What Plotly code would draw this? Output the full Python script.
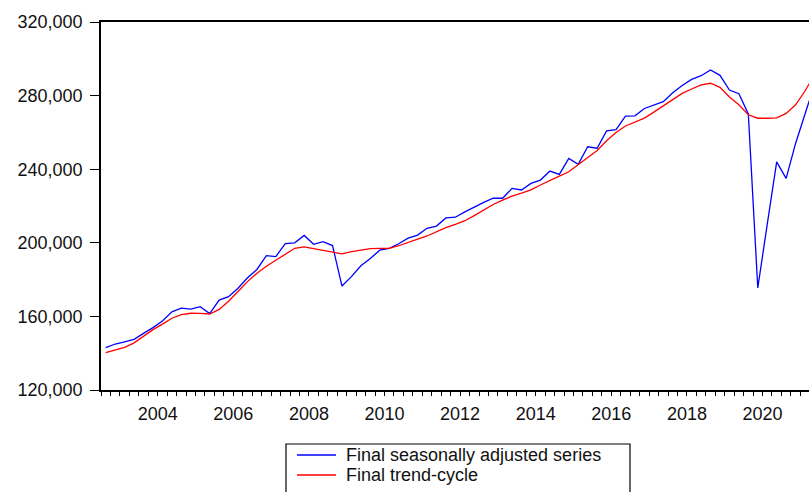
import plotly.graph_objects as go

# Quarterly observations 2003Q1 .. 2021Q4
start_year = 2003
quarters_per_year = 4

seasonally_adjusted = [
    143.0, 145.0, 146.2, 147.5,   # 2003
    150.8, 153.9, 157.5, 162.5,   # 2004
    164.5, 164.0, 165.3, 161.5,   # 2005
    168.9, 170.7, 175.3, 181.0,   # 2006
    185.5, 193.0, 192.5, 199.5,   # 2007
    200.0, 204.0, 199.2, 200.6,   # 2008
    198.5, 176.5, 181.6, 187.5,   # 2009
    191.5, 196.0, 197.0, 199.5,   # 2010
    202.5, 204.2, 207.9, 209.1,   # 2011
    213.5, 213.9, 216.8, 219.5,   # 2012
    222.0, 224.2, 224.2, 229.6,   # 2013
    228.7, 232.3, 234.1, 239.0,   # 2014
    237.2, 245.9, 242.7, 252.2,   # 2015
    251.4, 260.8, 261.5, 268.9,   # 2016
    269.0, 273.0, 274.9, 276.7,   # 2017
    281.5, 285.5, 288.8, 290.8,   # 2018
    293.9, 291.0, 283.0, 281.0,   # 2019
    270.0, 175.5, 210.0, 244.0,   # 2020
    235.0, 254.0, 270.0, 286.0,   # 2021
]

trend_cycle = [
    140.3, 141.8, 143.2, 145.6,   # 2003
    149.3, 152.8, 155.8, 159.0,   # 2004
    161.0, 161.7, 161.6, 161.3,   # 2005
    163.8, 168.2, 173.5, 178.9,   # 2006
    183.5, 187.3, 190.5, 193.8,   # 2007
    197.0, 197.8, 196.8, 195.6,   # 2008
    194.7, 194.0, 195.2, 196.1,   # 2009
    196.8, 197.0, 197.0, 198.4,   # 2010
    200.0, 202.0, 203.7, 206.0,   # 2011
    208.2, 210.0, 212.0, 214.8,   # 2012
    217.8, 220.8, 223.2, 225.4,   # 2013
    227.0, 228.8, 231.4, 234.0,   # 2014
    236.2, 238.6, 242.3, 246.0,   # 2015
    250.2, 255.5, 260.0, 263.5,   # 2016
    265.5, 267.8, 271.0, 274.5,   # 2017
    277.8, 281.2, 283.6, 285.8,   # 2018
    286.7, 284.5, 279.2, 275.0,   # 2019
    269.6, 267.7, 267.7, 267.9,   # 2020
    270.3, 275.0, 282.5, 291.5,   # 2021
]

y_ticks = [120000, 160000, 200000, 240000, 280000, 320000]
x_label_years = [2004, 2006, 2008, 2010, 2012, 2014, 2016, 2018, 2020]
series_names = ["Final seasonally adjusted series", "Final trend-cycle"]
series_colors = ["#0000FF", "#FF0000"]

# Each observation sits in the middle of its quarter slot
n = len(seasonally_adjusted)
t = [start_year + (i + 0.5) / quarters_per_year for i in range(n)]
sa = [v * 1000 for v in seasonally_adjusted]
tc = [v * 1000 for v in trend_cycle]

FONT = "Liberation Sans, Arial, sans-serif"
TXT = "#111111"
FS = 18
x_range = [2003, 2021.73]

# plot-area geometry (pixels) for positioning the legend box
W, H = 809, 492
L, R, T, B = 101, 0, 22, 102
PW, PH = W - L - R, H - T - B


def px(xp):
    return (xp - L) / PW


def py(yp):
    return (H - B - yp) / PH


fig = go.Figure()
fig.add_trace(go.Scatter(x=t, y=sa, mode="lines", name=series_names[0],
                         line=dict(color=series_colors[0], width=1.3)))
# same x scale (x2 matches x) -- carries the year labels
fig.add_trace(go.Scatter(x=t, y=tc, mode="lines", name=series_names[1],
                         xaxis="x2",
                         line=dict(color=series_colors[1], width=1.3)))

year_ticks = list(range(2003, 2022))
quarter_ticks = [start_year + q / 4 for q in range(0, 4 * 19)]

# Legend (EViews style, compact rows)
shapes = [dict(type="rect", xref="paper", yref="paper",
               x0=px(286), x1=px(630), y0=py(444), y1=py(505),
               line=dict(color="black", width=1.2), fillcolor="white",
               layer="above")]
annotations = []
rows = [455, 475]
for name, col, ry in zip(series_names, series_colors, rows):
    shapes.append(dict(type="line", xref="paper", yref="paper",
                       x0=px(297), x1=px(336), y0=py(ry), y1=py(ry),
                       line=dict(color=col, width=1.3), layer="above"))
    annotations.append(dict(text=name, xref="paper", yref="paper",
                            x=px(344), y=py(ry), xanchor="left",
                            yanchor="middle", showarrow=False,
                            font=dict(family=FONT, size=18, color=TXT)))

fig.update_layout(
    width=W, height=H,
    margin=dict(l=L, r=R, t=T, b=B, autoexpand=False),
    paper_bgcolor="white", plot_bgcolor="white",
    font=dict(family=FONT, size=FS, color=TXT),
    showlegend=False,
    shapes=shapes,
    annotations=annotations,
    xaxis=dict(
        range=x_range, automargin=False,
        tickmode="array",
        tickvals=year_ticks,
        ticktext=["" for _ in year_ticks],
        ticks="outside", ticklen=8, tickwidth=1.3, tickcolor="black",
        showline=True, linecolor="black", linewidth=1.5,
        mirror=True,
        showgrid=False, zeroline=False,
        minor=dict(tickmode="array", tickvals=quarter_ticks,
                   ticks="outside", ticklen=4, tickwidth=1.2,
                   tickcolor="black", showgrid=False),
    ),
    xaxis2=dict(
        range=x_range, automargin=False,
        matches="x",
        overlaying="x", anchor="y", side="bottom",
        tickmode="array",
        tickvals=[yr + 0.5 for yr in x_label_years],
        ticktext=[str(yr) for yr in x_label_years],
        ticks="", ticklabelstandoff=11,
        showline=False, showgrid=False, zeroline=False,
        tickfont=dict(family=FONT, size=FS, color=TXT),
    ),
    yaxis=dict(
        range=[120000, 320000], automargin=False,
        tickmode="array", tickvals=y_ticks,
        ticktext=[f"{v:,}" for v in y_ticks],
        ticks="outside", ticklen=9, tickwidth=1.3, tickcolor="black",
        ticklabelstandoff=4,
        showline=True, linecolor="black", linewidth=1.5,
        showgrid=False, zeroline=False,
        tickfont=dict(family=FONT, size=FS, color=TXT),
    ),
)

fig.write_html(
    "out.html",
    config={"displayModeBar": False},
    post_script="document.body.style.margin='0';"
                "document.body.style.overflow='hidden';",
)
